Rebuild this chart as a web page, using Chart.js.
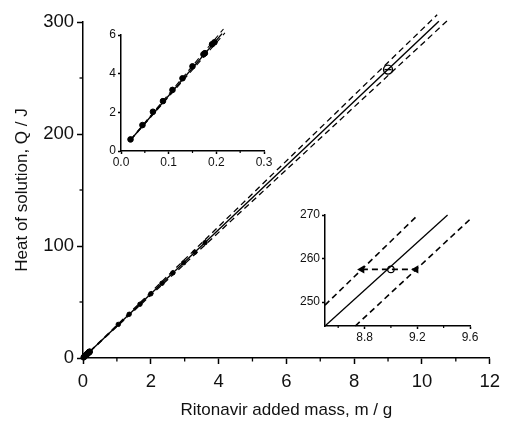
<!DOCTYPE html>
<html>
<head>
<meta charset="utf-8">
<script src="https://cdn.jsdelivr.net/npm/chart.js@4.4.0/dist/chart.umd.min.js"></script>
<style>
html, body { margin: 0; padding: 0; background: #fff; }
#wrap { position: relative; width: 507px; height: 421px; }
canvas { position: absolute; }
</style>
</head>
<body>
<div id="wrap">
  <canvas id="mainChart" width="507" height="421" style="left:0;top:0"></canvas>
  <canvas id="insetLow" width="180" height="146" style="left:95px;top:25px"></canvas>
  <canvas id="insetHigh" width="185" height="140" style="left:295px;top:205px"></canvas>
</div>
<script>
// measured points, main plot (g, J)
const massMain = [1.04, 1.36, 1.68, 2.0, 2.33, 2.65, 2.97, 3.3, 3.6];
const heatMain = [30, 39, 48, 57.3, 66.7, 76, 85, 94.5, 103];

// small additions shown in the upper inset
const massLow = [0.020, 0.045, 0.067, 0.088, 0.108, 0.129, 0.150, 0.173, 0.176, 0.191, 0.196];
const heatLow = [0.60, 1.34, 2.03, 2.58, 3.16, 3.76, 4.38, 5.00, 5.06, 5.52, 5.62];

// check point with its mass range
const checkMass = [9.0];
const checkHeat = [257.5];
const checkRangeMass = [8.78, 9.19];
const checkRangeHeat = [257.5, 257.5];

// fit line and its bounds (end points)
const fitMass = [0, 10.5];
const fitHeat = [0, 300.7];
const upperMass = [0, 10.45];
const upperHeat = [0, 306.5];
const lowerMass = [0, 10.8];
const lowerHeat = [0, 302.6];

const fitLowMass = [0.02, 0.212];
const fitLowHeat = [0.57, 6.07];
const upperLowMass = [0.02, 0.215];
const upperLowHeat = [0.59, 6.31];
const lowerLowMass = [0.02, 0.218];
const lowerLowHeat = [0.56, 6.11];

const fitHighMass = [8.5, 9.43];
const fitHighHeat = [244.5, 270];
const upperHighMass = [8.5, 9.205];
const upperHighHeat = [249.3, 270];
const lowerHighMass = [8.73, 9.6];
const lowerHighHeat = [244.5, 269];

// tick labels
const mainXTicks = [0, 2, 4, 6, 8, 10, 12];
const mainYTicks = [0, 100, 200, 300];
const mainXMinor = [1, 3, 5, 7, 9, 11];
const mainYMinor = [50, 150, 250];
const lowXTicks = [0, 0.1, 0.2, 0.3];
const lowYTicks = [0, 2, 4, 6];
const lowXMinor = [0.05, 0.15, 0.25];
const highXTicks = [8.8, 9.2, 9.6];
const highYTicks = [250, 260, 270];
const highXMinor = [8.6, 9.0, 9.4];

const FONT = 'Liberation Sans, Arial, sans-serif';

function pts(xs, ys) {
    return xs.map((x, i) => ({ x: x, y: ys[i] }));
}

// small extra ticks between labelled ones
const minorTicks = {
    id: 'minorTicks',
    afterDraw(chart, args, opts) {
        const ctx = chart.ctx;
        const xs = chart.scales.x, ys = chart.scales.y;
        ctx.save();
        ctx.strokeStyle = '#000';
        ctx.lineWidth = opts.width;
        (opts.x || []).forEach(v => {
            const px = xs.getPixelForValue(v);
            ctx.beginPath();
            ctx.moveTo(px, xs.top);
            ctx.lineTo(px, xs.top + opts.len);
            ctx.stroke();
        });
        (opts.y || []).forEach(v => {
            const py = ys.getPixelForValue(v);
            ctx.beginPath();
            ctx.moveTo(ys.right, py);
            ctx.lineTo(ys.right - opts.len, py);
            ctx.stroke();
        });
        ctx.restore();
    }
};

function lineSet(xs, ys, dashed, width) {
    return {
        data: pts(xs, ys),
        showLine: true,
        borderColor: '#000',
        borderWidth: width,
        borderDash: dashed ? [6, 4] : [],
        pointRadius: 0,
        clip: false
    };
}

function dotSet(xs, ys, r) {
    return {
        data: pts(xs, ys),
        pointRadius: r,
        pointBackgroundColor: '#000',
        pointBorderColor: '#000',
        clip: false
    };
}

function axis(o) {
    return {
        type: 'linear',
        min: o.min,
        max: o.max,
        afterBuildTicks: s => { s.ticks = o.ticks.map(v => ({ value: v })); },
        afterFit: s => { if (o.w !== undefined) s.width = o.w; if (o.h !== undefined) s.height = o.h; },
        border: { display: true, color: '#000', width: o.bw },
        grid: { display: true, drawOnChartArea: false, drawTicks: true, tickLength: o.tl, color: '#000', tickWidth: o.bw },
        ticks: {
            color: '#111',
            padding: o.pad,
            font: { family: FONT, size: o.fs },
            callback: o.fmt || (v => String(v)),
            autoSkip: false,
            maxRotation: 0
        },
        title: o.title ? {
            display: true,
            text: o.title,
            color: '#111',
            font: { family: FONT, size: 17 },
            padding: o.tpad
        } : { display: false }
    };
}

const baseOpts = {
    responsive: false,
    animation: false,
    events: [],
    plugins: { legend: { display: false }, tooltip: { enabled: false } }
};

// main chart
new Chart(document.getElementById('mainChart'), {
    type: 'scatter',
    data: {
        datasets: [
            lineSet(fitMass, fitHeat, false, 1.4),
            lineSet(upperMass, upperHeat, true, 1.3),
            lineSet(lowerMass, lowerHeat, true, 1.3),
            dotSet(massLow, heatLow, 2.8),
            dotSet(massMain, heatMain, 2.2),
            {
                data: pts(checkMass, checkHeat),
                pointStyle: 'circle',
                pointRadius: 4.5,
                pointBackgroundColor: 'rgba(0,0,0,0)',
                pointBorderColor: '#000',
                pointBorderWidth: 1.4,
                clip: false
            },
            {
                data: pts(checkMass, checkHeat),
                pointStyle: 'line',
                pointRadius: 3.5,
                pointBorderColor: '#000',
                pointBorderWidth: 1.4,
                clip: false
            }
        ]
    },
    options: Object.assign({}, baseOpts, {
        layout: { padding: { top: 22, right: 12, left: 0, bottom: 0 } },
        scales: {
            x: axis({ min: 0, max: 12, ticks: mainXTicks, h: 63, bw: 1.5, tl: 6, pad: 7, fs: 18.5,
                title: 'Ritonavir added mass, m / g', tpad: { top: 0, bottom: 0 } }),
            y: axis({ min: 0, max: 300, ticks: mainYTicks, w: 83, bw: 1.5, tl: 6, pad: 3, fs: 18.5,
                title: 'Heat of solution, Q / J', tpad: { top: 12, bottom: 0 } })
        },
        plugins: Object.assign({}, baseOpts.plugins, {
            minorTicks: { x: mainXMinor, y: mainYMinor, len: 3.5, width: 1.3 }
        })
    }),
    plugins: [minorTicks]
});

// upper-left inset
new Chart(document.getElementById('insetLow'), {
    type: 'scatter',
    data: {
        datasets: [
            lineSet(fitLowMass, fitLowHeat, false, 1.4),
            lineSet(upperLowMass, upperLowHeat, true, 1.1),
            lineSet(lowerLowMass, lowerLowHeat, true, 1.1),
            dotSet(massLow, heatLow, 2.8)
        ]
    },
    options: Object.assign({}, baseOpts, {
        layout: { padding: { top: 10, right: 11, left: 0, bottom: 0 } },
        scales: {
            x: axis({ min: 0, max: 0.3, ticks: lowXTicks, h: 20, bw: 1.5, tl: 3, pad: 1, fs: 12,
                fmt: v => v.toFixed(1) }),
            y: axis({ min: 0, max: 6, ticks: lowYTicks, w: 26, bw: 1.5, tl: 3, pad: 2, fs: 12 })
        },
        plugins: Object.assign({}, baseOpts.plugins, {
            minorTicks: { x: lowXMinor, y: [], len: 2, width: 1.2 }
        })
    }),
    plugins: [minorTicks]
});

// lower-right inset
new Chart(document.getElementById('insetHigh'), {
    type: 'scatter',
    data: {
        datasets: [
            lineSet(fitHighMass, fitHighHeat, false, 1.3),
            lineSet(upperHighMass, upperHighHeat, true, 1.6),
            lineSet(lowerHighMass, lowerHighHeat, true, 1.6),
            {
                data: pts(checkRangeMass, checkRangeHeat),
                showLine: true,
                borderColor: '#000',
                borderWidth: 1.8,
                borderDash: [6, 4],
                pointStyle: 'triangle',
                pointRadius: 3,
                pointRotation: [-90, -90],
                pointBackgroundColor: '#000',
                pointBorderColor: '#000',
                clip: false
            },
            {
                data: pts(checkMass, checkHeat),
                pointStyle: 'circle',
                pointRadius: 3.2,
                pointBackgroundColor: 'rgba(0,0,0,0)',
                pointBorderColor: '#000',
                pointBorderWidth: 1.2,
                clip: false
            }
        ]
    },
    options: Object.assign({}, baseOpts, {
        layout: { padding: { top: 10, right: 10, left: 0, bottom: 0 } },
        scales: {
            x: axis({ min: 8.5, max: 9.6, ticks: highXTicks, h: 19, bw: 1.5, tl: 3, pad: 1, fs: 12,
                fmt: v => v.toFixed(1) }),
            y: axis({ min: 244.5, max: 270, ticks: highYTicks, w: 30, bw: 1.5, tl: 3, pad: 2, fs: 12 })
        },
        plugins: Object.assign({}, baseOpts.plugins, {
            minorTicks: { x: highXMinor, y: [], len: 2, width: 1.2 }
        })
    }),
    plugins: [minorTicks]
});
</script>
</body>
</html>
